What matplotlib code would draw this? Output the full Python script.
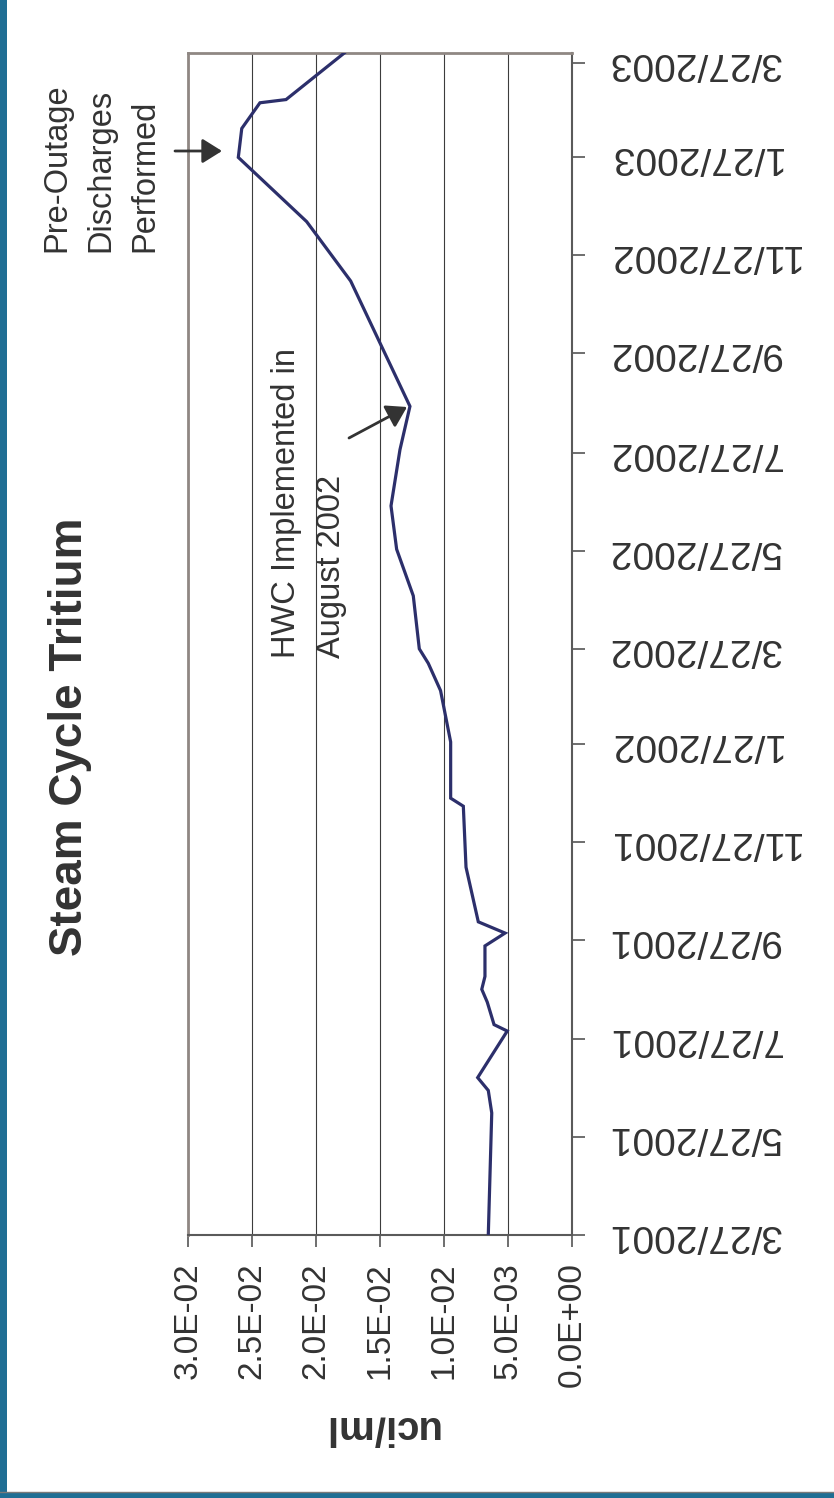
import matplotlib
matplotlib.use("Agg")
import matplotlib.pyplot as plt
from matplotlib.patches import Rectangle
from matplotlib.lines import Line2D
import pandas as pd

# --- data ---------------------------------------------------------------
sample_dates = ["2001-03-27", "2001-06-11", "2001-06-25", "2001-07-03", "2001-08-01",
                "2001-08-05", "2001-08-19", "2001-08-27", "2001-09-04", "2001-09-23",
                "2001-10-01", "2001-10-08", "2001-11-11", "2001-12-19", "2001-12-24",
                "2002-01-28", "2002-03-01", "2002-03-18", "2002-03-27", "2002-04-29",
                "2002-05-28", "2002-06-24", "2002-07-29", "2002-08-25", "2002-11-11",
                "2002-12-18", "2003-01-27", "2003-02-14", "2003-03-02", "2003-03-04",
                "2003-04-02"]
tritium_uci_ml = [0.00654, 0.00627, 0.00654, 0.00737, 0.00506,
                  0.00609, 0.00662, 0.00705, 0.00680, 0.00680,
                  0.00523, 0.00732, 0.00828, 0.00849, 0.00948,
                  0.00948, 0.01027, 0.01123, 0.01193, 0.01240,
                  0.01370, 0.01414, 0.01344, 0.01266, 0.01729,
                  0.02073, 0.02607, 0.02580, 0.02438, 0.02234,
                  0.01779]
date_ticks = ["2001-03-27", "2001-05-27", "2001-07-27", "2001-09-27", "2001-11-27",
              "2002-01-27", "2002-03-27", "2002-05-27", "2002-07-27", "2002-09-27",
              "2002-11-27", "2003-01-27", "2003-03-27"]
date_tick_labels = ["3/27/2001", "5/27/2001", "7/27/2001", "9/27/2001", "11/27/2001",
                    "1/27/2002", "3/27/2002", "5/27/2002", "7/27/2002", "9/27/2002",
                    "11/27/2002", "1/27/2003", "3/27/2003"]
value_ticks = [0.0, 0.005, 0.010, 0.015, 0.020, 0.025, 0.030]
value_tick_labels = ["0.0E+00", "5.0E-03", "1.0E-02", "1.5E-02", "2.0E-02", "2.5E-02", "3.0E-02"]

title_text = "Steam Cycle Tritium"
value_label = "uci/ml"
note_outage = "Pre-Outage\nDischarges\nPerformed"
note_hwc = "HWC Implemented in\nAugust 2002"

# --- figure ---------------------------------------------------------------
W, H = 834, 1498
DPI = 100
plt.rcParams["font.family"] = ["Liberation Sans", "DejaVu Sans"]
TXT = "#333333"

fig = plt.figure(figsize=(W / DPI, H / DPI), dpi=DPI, facecolor="white")


def fx(px):
    return px / W


def fy(py):
    return 1 - py / H


# frame strips along the left and bottom edges
fig.patches.append(Rectangle((0, 0), fx(7), 1, transform=fig.transFigure,
                             facecolor="#1f6e94", edgecolor="none", zorder=0))
fig.patches.append(Rectangle((0, 0), 1, fy(1492.5), transform=fig.transFigure,
                             facecolor="#1f6e94", edgecolor="none", zorder=0))
fig.lines.append(Line2D([0, 1], [fy(1491.5), fy(1491.5)], transform=fig.transFigure,
                        color="#7a7a7a", lw=1.0))

left, right, top, bottom = 188, 572, 53, 1235
ax = fig.add_axes([fx(left), fy(bottom), fx(right - left), fy(top) - fy(bottom)])
ax.set_zorder(2)

dates = pd.to_datetime(sample_dates)
ax.plot(tritium_uci_ml, dates, color="#2c2f6b", lw=2.3, solid_joinstyle="miter", zorder=3)

ax.set_xlim(0.03, 0.0)
ax.set_ylim(dates[0], dates[-1])

ax.set_xticks(value_ticks)
ax.set_xticklabels(value_tick_labels, rotation=90, fontsize=24, color=TXT)
ax.yaxis.tick_right()
ax.set_yticks(pd.to_datetime(date_ticks))
ax.set_yticklabels(date_tick_labels, rotation=180, fontsize=28, color=TXT, va="center")

ax.tick_params(axis="x", direction="out", length=8.5, width=1.2, color="#555555", pad=11)
ax.tick_params(axis="y", direction="out", length=9.5, width=1.2, color="#555555", pad=16)

ax.grid(axis="x", color="#3c3c3c", lw=0.8)
ax.set_axisbelow(True)

for side in ("left", "top"):
    ax.spines[side].set_color("#8f8783")
    ax.spines[side].set_linewidth(2.0)
for side in ("bottom", "right"):
    ax.spines[side].set_color("#5a5a5a")
    ax.spines[side].set_linewidth(1.5)

# titles and notes
fig.text(fx(70), fy(737), title_text, rotation=90, fontsize=33, fontweight="bold",
         color=TXT, ha="center", va="center")
fig.text(fx(380), fy(1428), value_label, rotation=180, fontsize=29, fontweight="bold",
         color=TXT, ha="center", va="center")
fig.text(fx(101), fy(252), note_outage, rotation=90, fontsize=23.5, color=TXT,
         ha="center", va="bottom", multialignment="left", linespacing=1.55)
fig.text(fx(309), fy(658), note_hwc, rotation=90, fontsize=23.5, color=TXT,
         ha="center", va="bottom", multialignment="left", linespacing=1.55)

arrow_props = dict(arrowstyle="-|>,head_length=1.2,head_width=0.75", mutation_scale=10,
                   color="#333333", lw=2.0, shrinkA=0, shrinkB=0)
ax.annotate("", xy=(fx(222), fy(151)), xycoords="figure fraction",
            xytext=(fx(175), fy(151)), textcoords="figure fraction",
            arrowprops=arrow_props, annotation_clip=False)
ax.annotate("", xy=(fx(407), fy(407)), xycoords="figure fraction",
            xytext=(fx(349), fy(438)), textcoords="figure fraction",
            arrowprops=arrow_props, annotation_clip=False)

fig.savefig("out.png", dpi=DPI, facecolor="white")
